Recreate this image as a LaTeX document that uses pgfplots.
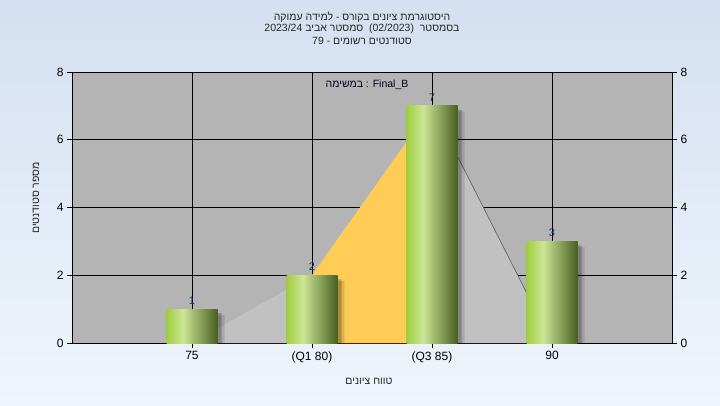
\documentclass[border=0pt]{standalone}
\usepackage{pgfplots}
\pgfplotsset{compat=1.18}
\usepackage{fontspec}
\setmainfont{Liberation Sans}
\newfontfamily\hebfont[Script=Hebrew]{Liberation Sans}
\TeXXeTstate=1
\newcommand{\heb}[1]{{\hebfont\beginR #1\endR}}
\definecolor{bgtop}{RGB}{212,224,241}
\definecolor{bgbot}{RGB}{239,245,252}
\definecolor{plotbg}{RGB}{180,180,180}
\definecolor{areagray}{RGB}{193,193,193}
\definecolor{qyellow}{RGB}{255,204,85}
\definecolor{gA}{RGB}{158,205,62}
\definecolor{gB}{RGB}{205,230,150}
\definecolor{gC}{RGB}{72,95,33}
\definecolor{lblcol}{RGB}{25,55,95}
\pgfdeclarehorizontalshading{barshade}{100bp}{color(0bp)=(gA); color(25bp)=(gA); color(41bp)=(gB); color(75bp)=(gC); color(100bp)=(gC)}
\pgfplotsset{
  mybar/.style={ybar, bar width=51pt, bar shift=0pt, draw=none, shading=barshade,
    nodes near coords, point meta=explicit symbolic,
    every node near coord/.append style={font=\fontsize{11}{11}\selectfont, text=lblcol, anchor=south, yshift=1pt}},
  myshadow/.style={ybar, bar width=51pt, draw=none, fill=black},
}
\begin{document}
\begin{tikzpicture}[x=1pt,y=1pt]
\useasboundingbox (0,0) rectangle (720,405);
\shade[top color=bgtop, bottom color=bgbot] (0,0) rectangle (720,405);
\begin{scope}[every node/.style={font=\fontsize{10.5}{12}\selectfont, text=black!85}]
\node at (362,388) {\heb{היסטוגרמת ציונים בקורס - למידה עמוקה}};
\node at (362,376) {\heb{בסמסטר\ \ \beginL(02/2023)\endL\ \ סמסטר אביב \beginL 2023/24\endL}};
\node at (362,364) {\heb{סטודנטים רשומים - \beginL 79\endL}};
\end{scope}
\begin{axis}[
  at={(72pt,62pt)}, anchor=south west, scale only axis,
  width=600pt, height=271pt,
  xmin=-1, xmax=4, ymin=0, ymax=8,
  xtick={0,1,2,3}, xticklabels={75,(Q1 80),(Q3 85),90},
  ytick={0,2,4,6,8},
  xtick pos=bottom, ytick pos=left,
  tick align=outside, major tick length=5pt,
  tick style={black, line width=0.8pt},
  grid=major, major grid style={black, line width=0.8pt},
  axis line style={black, line width=0.8pt},
  axis background/.style={fill=plotbg},
  /pgf/number format/assume math mode=true,
  ticklabel style={font=\fontsize{12}{12}\selectfont},
  clip=true,
]
\addplot[fill=areagray, draw=none] coordinates {(0,0) (1,2) (2,7) (3,0)} \closedcycle;
\addplot[fill=qyellow, draw=none] coordinates {(1,2) (2,7)} \closedcycle;
\addplot[draw=black!65, line width=0.6pt] coordinates {(2,7) (3,0)};
\addplot[myshadow, bar shift=7pt, fill opacity=0.12] coordinates {(0,0.83) (1,1.83) (2,6.83) (3,2.83)};
\addplot[myshadow, bar shift=4pt, fill opacity=0.22] coordinates {(0,0.88) (1,1.88) (2,6.88) (3,2.88)};
\addplot[mybar] coordinates {(0,1)[1]};
\addplot[mybar] coordinates {(1,2)[2]};
\addplot[mybar] coordinates {(2,7)[7]};
\addplot[mybar] coordinates {(3,3)[3]};
\end{axis}
\begin{axis}[
  at={(72pt,62pt)}, anchor=south west, scale only axis,
  width=600pt, height=271pt,
  xmin=-1, xmax=4, ymin=0, ymax=8,
  axis x line=none, axis y line*=right,
  ytick={0,2,4,6,8},
  tick align=outside, major tick length=5pt,
  tick style={black, line width=0.8pt},
  axis line style={black, line width=0.8pt},
  /pgf/number format/assume math mode=true,
  ticklabel style={font=\fontsize{12}{12}\selectfont},
]
\end{axis}
\node[font=\fontsize{10.5}{12}\selectfont, text=black!85!blue] at (367,320) {\heb{במשימה} : Final\_B};
\node[font=\fontsize{10.5}{12}\selectfont, text=black!85] at (369,24) {\heb{טווח ציונים}};
\node[font=\fontsize{10.5}{12}\selectfont, text=black!85, rotate=90] at (36,207) {\heb{מספר סטודנטים}};
\end{tikzpicture}
\end{document}
